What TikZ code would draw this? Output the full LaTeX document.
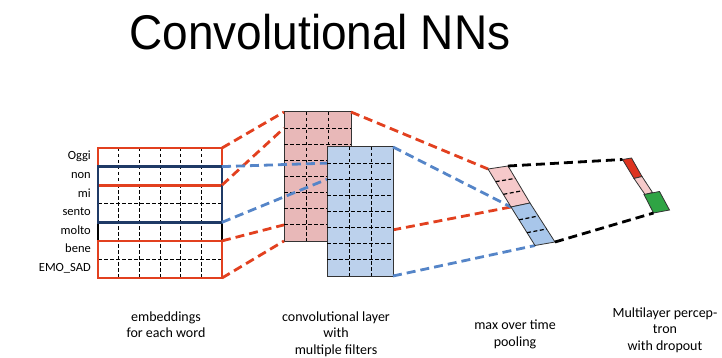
\documentclass[tikz,border=0pt]{standalone}
\usepackage{fontspec}
\setmainfont{Carlito}
\newfontfamily\titlefont{Liberation Sans}
\usetikzlibrary{calc}
\definecolor{cred}{HTML}{E2401F}
\definecolor{cnavy}{HTML}{1F3A66}
\definecolor{cblue}{HTML}{5585C8}
\definecolor{pinkf}{HTML}{E8B8B8}
\definecolor{bluef}{HTML}{BCD1EC}
\definecolor{poolpink}{HTML}{F6C9CA}
\definecolor{poolblue}{HTML}{A8C6EA}
\definecolor{mlpred}{HTML}{DD3420}
\definecolor{mlppink}{HTML}{F6CACA}
\definecolor{mlpgreen}{HTML}{2FA444}
\begin{document}
\begin{tikzpicture}[x=1pt,y=-1pt,
  conn/.style={line width=2.8pt, dash pattern=on 9pt off 5pt},
  gridline/.style={line width=0.8pt, dash pattern=on 3.5pt off 2.5pt},
  innerdash/.style={line width=1.2pt, dash pattern=on 4pt off 2.5pt},
  rectbox/.style={inner sep=0pt, outer sep=0pt, anchor=north west},
  word/.style={anchor=base east, inner sep=0pt, font=\fontsize{12.5}{14}\selectfont},
  lbl/.style={anchor=base, inner sep=0pt, align=center, font=\fontsize{14}{16.5}\selectfont},
  shape3/.style={draw=black!80, line width=0.8pt}]
\useasboundingbox (0,0) rectangle (722,358);

% title
\node[anchor=base, inner sep=0pt, font=\titlefont\fontsize{46}{50}\selectfont, yscale=1.06] (title) at (320,50) {Convolutional NNs};

% word labels
\node[word] (w1) at (91,160) {Oggi};
\node[word] (w2) at (91,178.5) {non};
\node[word] (w3) at (91,197) {mi};
\node[word] (w4) at (91,215.5) {sento};
\node[word] (w5) at (91,234) {molto};
\node[word] (w6) at (91,252.5) {bene};
\node[word] (w7) at (91,271) {EMO\_SAD};

% embedding matrix
\node[rectbox, minimum width=124pt, minimum height=130pt] (emb) at (98,148) {};
\foreach \i in {1,...,5}
  \draw[gridline] ($(emb.north west)!\i/6!(emb.north east)$) -- ($(emb.south west)!\i/6!(emb.south east)$);
\foreach \i in {1,...,6}
  \draw[gridline] ($(emb.north west)!\i/7!(emb.south west)$) -- ($(emb.north east)!\i/7!(emb.south east)$);
\draw[line width=1.2pt] (emb.north west) -- (emb.south west) (emb.north east) -- (emb.south east);
\node[rectbox, draw=cred, line width=2.8pt, minimum width=124pt, minimum height=37.1pt] (r1) at (98,148) {};
\node[rectbox, draw=cred, line width=2.8pt, minimum width=124pt, minimum height=37.1pt] (r2) at (98,240.9) {};
\node[rectbox, draw=cnavy, line width=2.8pt, minimum width=124pt, minimum height=55.7pt] (bb) at (98,166.6) {};

% convolutional layer: pink filter map
\node[rectbox, draw=black!80, line width=1pt, fill=pinkf, minimum width=67pt, minimum height=129pt] (cp) at (284,112) {};
\foreach \i in {1,2}
  \draw[gridline] ($(cp.north west)!\i/3!(cp.north east)$) -- ($(cp.south west)!\i/3!(cp.south east)$);
\foreach \i in {1,...,7}
  \draw[gridline] ($(cp.north west)!\i/8!(cp.south west)$) -- ($(cp.north east)!\i/8!(cp.south east)$);

% red connectors embedding -> pink map
\draw[conn, cred] (r1.north east) -- (cp.north west);
\draw[conn, cred] (r1.south east) -- ($(cp.north west)!1/8!(cp.south west)$);
\draw[conn, cred] (r2.north east) -- ($(cp.north west)!7/8!(cp.south west)$);
\draw[conn, cred] (r2.south east) -- (cp.south west);

% pooling coordinates
\coordinate (p1) at (488,169);
\coordinate (p2) at (508,166);
\coordinate (p3) at (530,203);
\coordinate (p4) at (511,207);
\coordinate (q3) at (555,242);
\coordinate (q4) at (535,245.5);

% red connectors pink map -> pooling (behind blue map)
\draw[conn, cred] (cp.north east) -- (p1);
\draw[conn, cred] ($(cp.south east)+(0,-3)$) -- (p4);

% blue connectors embedding -> blue map (over pink map)
\node[rectbox, minimum width=66pt, minimum height=129pt] (cbpos) at (327,147) {};
\draw[conn, cblue] (bb.north east) -- ($(cbpos.north west)!1/8!(cbpos.south west)$);
\draw[conn, cblue] (bb.south east) -- ($(cbpos.north west)!2/8!(cbpos.south west)$);

% blue filter map
\node[rectbox, draw=black!80, line width=1pt, fill=bluef, minimum width=66pt, minimum height=129pt] (cb) at (327,147) {};
\foreach \i in {1,2}
  \draw[gridline] ($(cb.north west)!\i/3!(cb.north east)$) -- ($(cb.south west)!\i/3!(cb.south east)$);
\foreach \i in {1,...,7}
  \draw[gridline] ($(cb.north west)!\i/8!(cb.south west)$) -- ($(cb.north east)!\i/8!(cb.south east)$);

% blue connectors blue map -> pooling
\draw[conn, cblue] (cb.north east) -- (p4);
\draw[conn, cblue] (cb.south east) -- (q4);

% pooling cells
\draw[shape3, fill=poolpink] (p1) -- (p2) -- (p3) -- (p4) -- cycle;
\draw[shape3, fill=poolblue] (p4) -- (p3) -- (q3) -- (q4) -- cycle;
\foreach \i in {1,2} {
  \draw[innerdash] ($(p1)!\i/3!(p4)$) -- ($(p2)!\i/3!(p3)$);
  \draw[innerdash] ($(p4)!\i/3!(q4)$) -- ($(p3)!\i/3!(q3)$);
}

% MLP
\coordinate (m1) at (622.5,159.5);
\coordinate (m2) at (631.5,158);
\coordinate (m3) at (642,176.5);
\coordinate (m4) at (634,178.5);
\coordinate (m5) at (652.5,192.5);
\coordinate (m6) at (645,194.5);
\coordinate (g1) at (644,194.5);
\coordinate (g2) at (659.5,191.5);
\coordinate (g3) at (669.5,210);
\coordinate (g4) at (653.5,213);
\draw[shape3, fill=mlpred] (m1) -- (m2) -- (m3) -- (m4) -- cycle;
\draw[shape3, fill=mlppink] (m4) -- (m3) -- (m5) -- (m6) -- cycle;
\draw[shape3, fill=mlpgreen] (g1) -- (g2) -- (g3) -- (g4) -- cycle;

% black connectors pooling -> MLP
\draw[conn, black] (p2) -- (m1);
\draw[conn, black] (q3) -- (g4);

% bottom labels (anchor = baseline of last line)
\node[lbl] (l1) at (166,337.5) {embeddings\\for each word};
\node[lbl] (l2) at (336,354) {convolutional layer\\with\\multiple filters};
\node[lbl] (l3) at (515,346) {max over time\\pooling};
\node[lbl] (l4) at (665,350) {Multilayer percep-\\tron\\with dropout};
\end{tikzpicture}
\end{document}
